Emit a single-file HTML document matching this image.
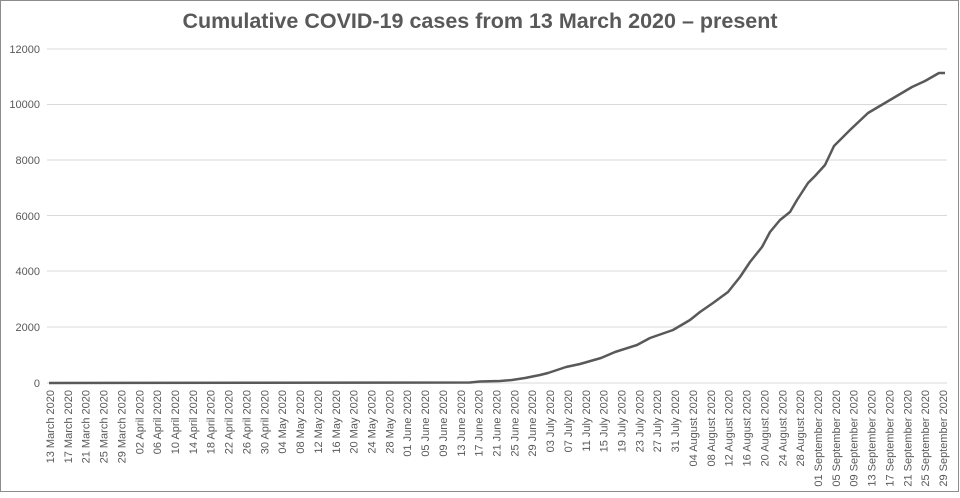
<!DOCTYPE html>
<html><head><meta charset="utf-8"><style>
html,body{margin:0;padding:0;background:#fff}
</style></head><body>
<svg width="960" height="493" xmlns="http://www.w3.org/2000/svg" font-family="Liberation Sans, Arial, sans-serif">
<rect x="0.5" y="0.5" width="958" height="491" fill="#fff" stroke="#8c8c8c" stroke-width="1"/>
<text x="480" y="28" text-anchor="middle" font-size="21.5" font-weight="bold" fill="#595959">Cumulative COVID-19 cases from 13 March 2020 – present</text>
<g stroke="#d9d9d9" stroke-width="1">
<line x1="47" y1="49" x2="947" y2="49"/>
<line x1="47" y1="104.5" x2="947" y2="104.5"/>
<line x1="47" y1="160" x2="947" y2="160"/>
<line x1="47" y1="215.5" x2="947" y2="215.5"/>
<line x1="47" y1="271" x2="947" y2="271"/>
<line x1="47" y1="327" x2="947" y2="327"/>
<line x1="47" y1="383" x2="947" y2="383"/>
</g>
<g font-size="11" fill="#595959" text-anchor="end">
<text x="40" y="53">12000</text>
<text x="40" y="108">10000</text>
<text x="40" y="164">8000</text>
<text x="40" y="220">6000</text>
<text x="40" y="275">4000</text>
<text x="40" y="331">2000</text>
<text x="40" y="387">0</text>
</g>
<polyline fill="none" stroke="#595959" stroke-width="2.5" stroke-linejoin="round" points="49,383 470,382.5 480,381.5 500,381 512,380 525,378 540,375 548,373 566,367 580,364 601,358 615,352 637,345 650,338 673,330 690,320 700,312 713,303 728,292 740,277 750,262 762,247 770,232 780,220 790,212 797,200 808,183 815,176 825,165 834,146 850,130 868,113 890,100 912,87 925,81 939,73 945,73"/>
<g id="xl" font-size="11" fill="#595959" text-anchor="end"></g>
</svg>
<script>
var labels=["13 March 2020","17 March 2020","21 March 2020","25 March 2020","29 March 2020","02 April 2020","06 April 2020","10 April 2020","14 April 2020","18 April 2020","22 April 2020","26 April 2020","30 April 2020","04 May 2020","08 May 2020","12 May 2020","16 May 2020","20 May 2020","24 May 2020","28 May 2020","01 June 2020","05 June 2020","09 June 2020","13 June 2020","17 June 2020","21 June 2020","25 June 2020","29 June 2020","03 July 2020","07 July 2020","11 July 2020","15 July 2020","19 July 2020","23 July 2020","27 July 2020","31 July 2020","04 August 2020","08 August 2020","12 August 2020","16 August 2020","20 August 2020","24 August 2020","28 August 2020","01 September 2020","05 September 2020","09 September 2020","13 September 2020","17 September 2020","21 September 2020","25 September 2020","29 September 2020"];
var g=document.getElementById('xl'),ns="http://www.w3.org/2000/svg";
labels.forEach(function(l,i){var x=50+i*17.86+4,y=390;var t=document.createElementNS(ns,'text');t.setAttribute('x',x);t.setAttribute('y',y);t.setAttribute('transform','rotate(-90 '+x+' '+y+')');t.textContent=l;g.appendChild(t);});
</script>
</body></html>
